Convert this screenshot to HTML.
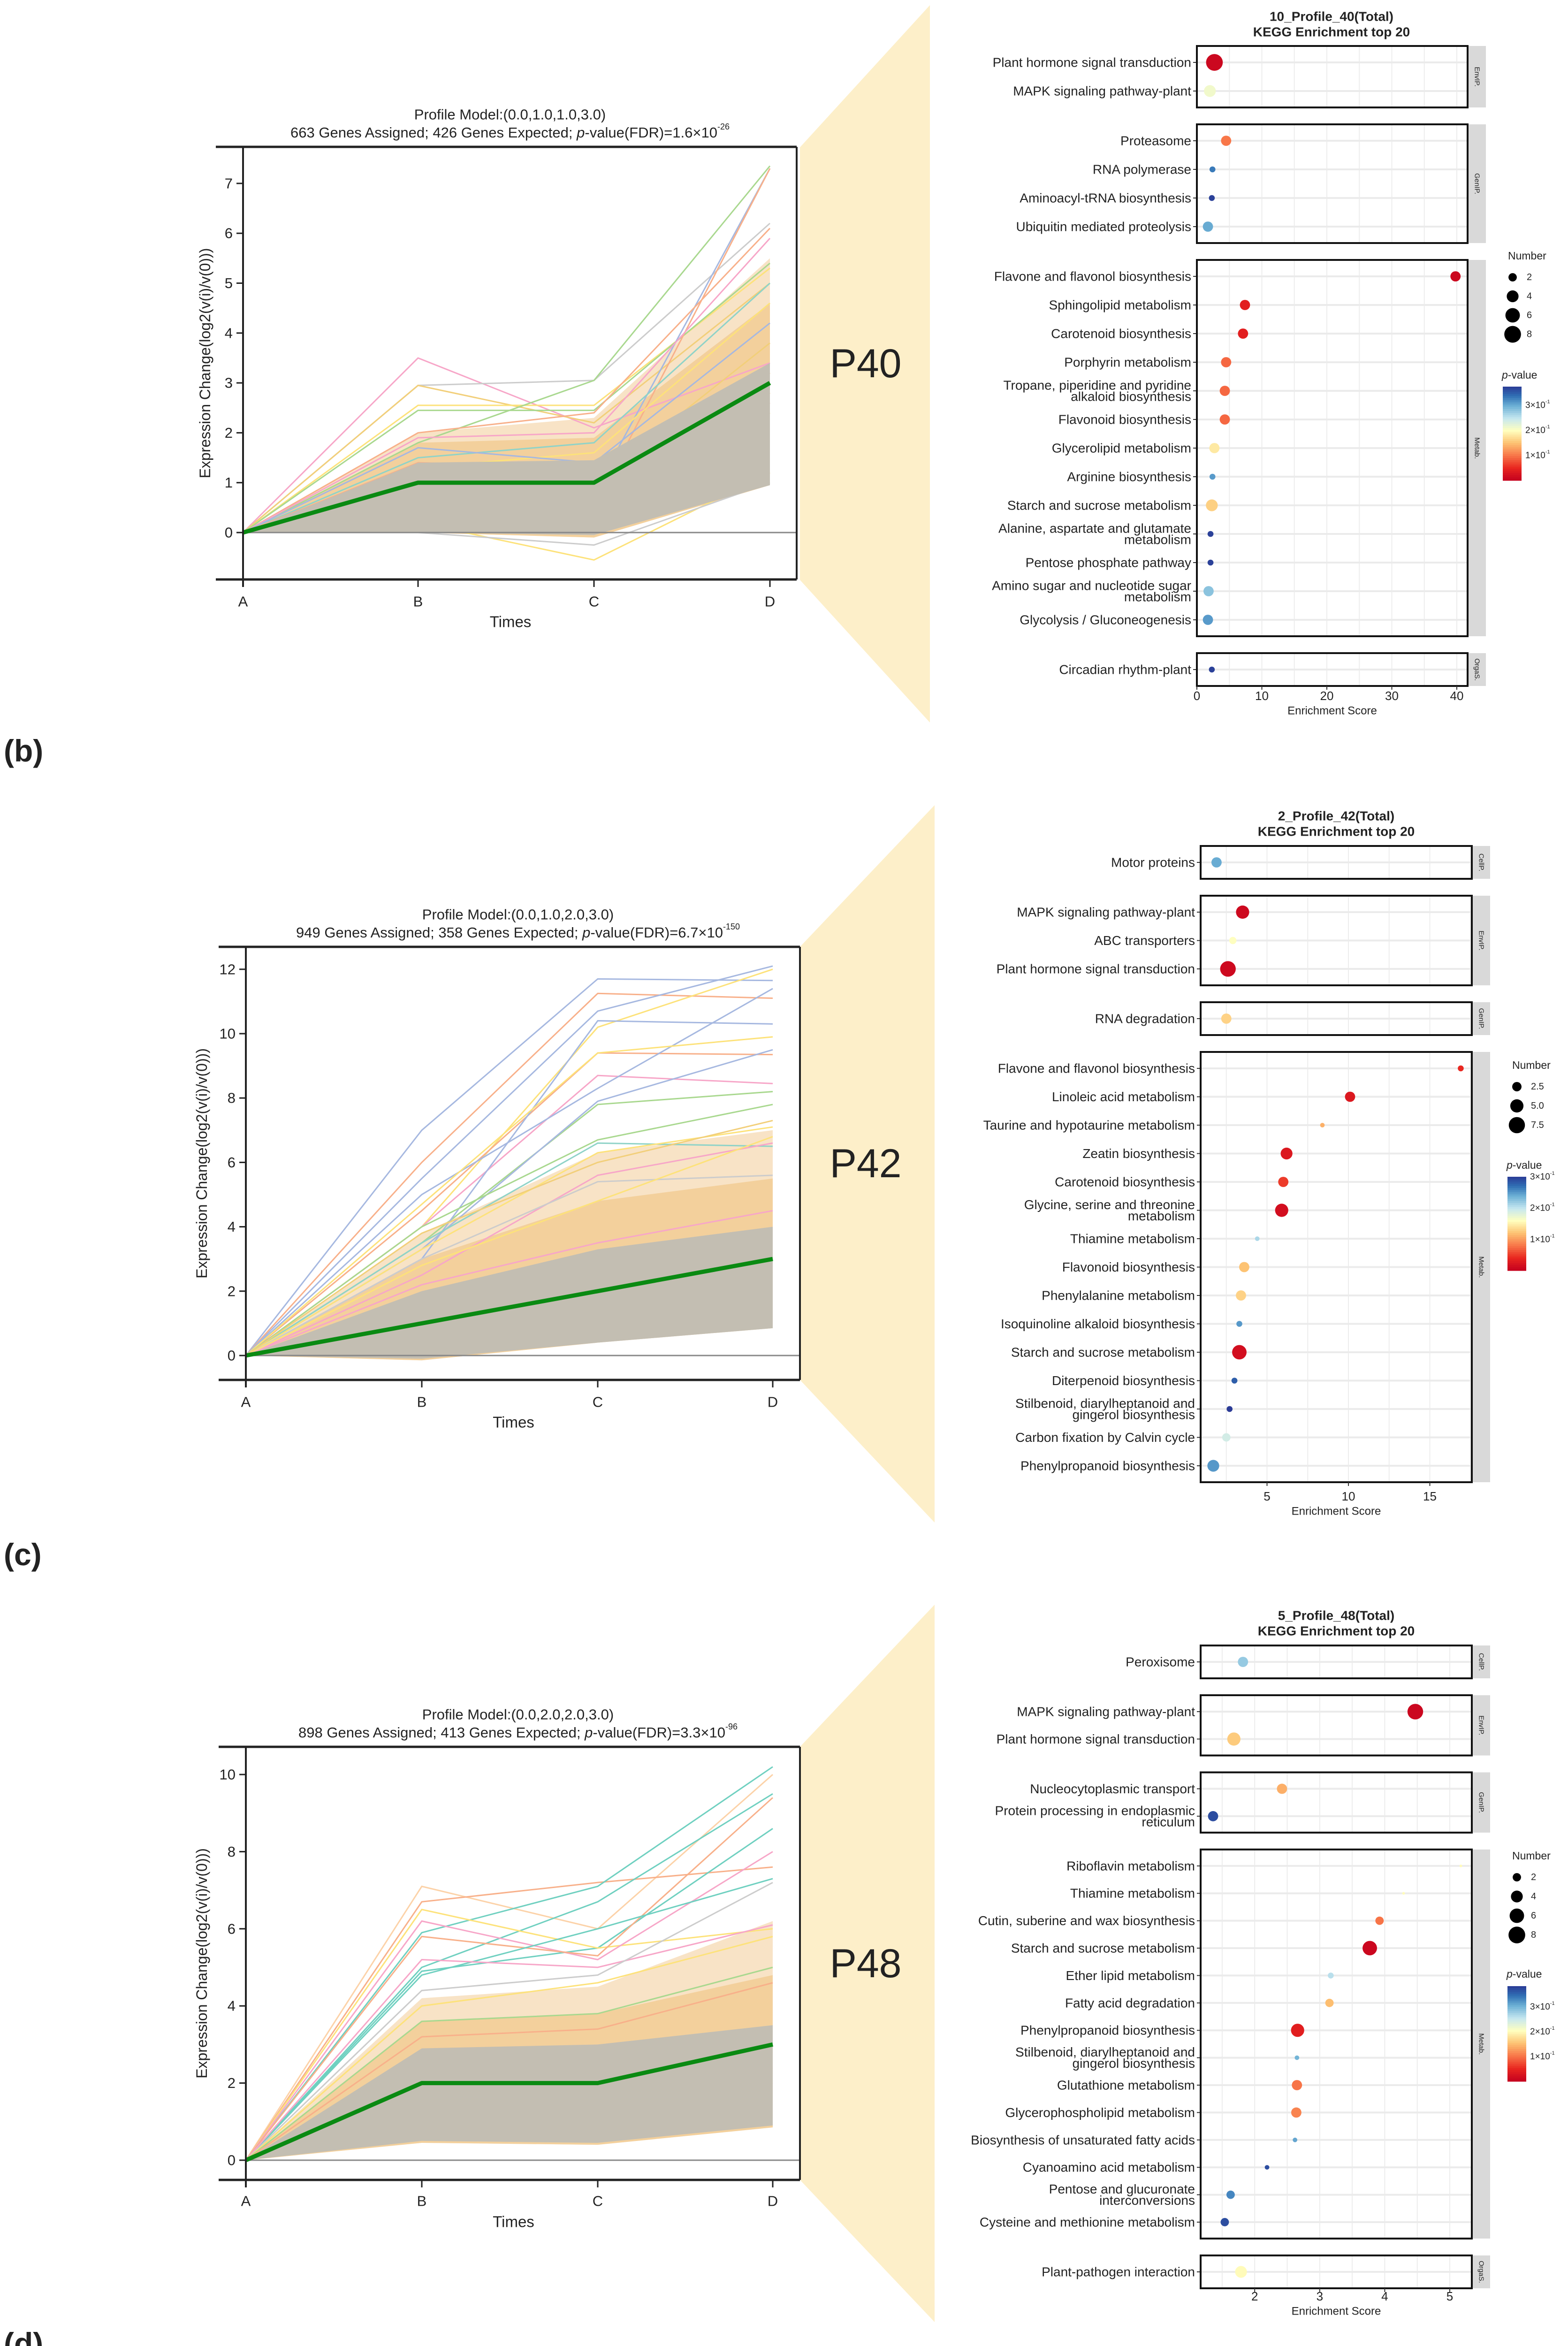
<!DOCTYPE html>
<html><head><meta charset="utf-8">
<style>
html,body{margin:0;padding:0;background:#fff;width:3342px;height:5066px;overflow:hidden;}
svg{display:block;}
text{font-family:"Liberation Sans",sans-serif;fill:#222;}
</style></head>
<body>
<svg id="fig" xmlns="http://www.w3.org/2000/svg" width="3342" height="5066" viewBox="0 0 3342 5066" overflow="hidden"></svg>
<script>
// ===== Profile chart data =====
const timeLabels = ["A","B","C","D"];
const bModel = [0,1,1,3];
const bCoreLow = [0,0,-0.05,0.95];
const bCoreHigh = [0,1.4,1.45,3.4];
const bMidHigh = [0,1.8,1.9,4.6];
const bBandLow = [0,0,-0.1,0.95];
const bBandHigh = [0,2.0,2.3,5.5];
const bLines = [[0,3.5,2.1,3.4],[0,2.95,3.05,6.2],[0,2.95,2.2,5.0],[0,2.55,2.55,5.3],[0,2.45,2.45,5.4],[0,1.8,3.05,7.35],[0,1.0,0.8,7.3],[0,0.9,0.5,7.3],[0,0.2,-0.55,1.2],[0,0,-0.25,1.0],[0,2.0,2.4,6.1],[0,1.9,2.0,5.9],[0,1.5,1.8,5.0],[0,1.3,1.6,4.6],[0,1.7,1.4,4.2],[0,1.2,1.0,3.8],[0,1.1,1.2,3.2],[0,0.8,0.9,2.8],[0,0.6,0.5,2.4],[0,1.4,1.3,2.6]];
const bLineColors = ["#f7a6c8","#cccccc","#f2cf7a","#fde27a","#a9d88f","#a9d88f","#a6b8e0","#f8b08a","#fde27a","#cccccc","#f8b08a","#f7a6c8","#8fd3c8","#fde27a","#a6b8e0","#f2cf7a","#fcc96a","#fcc96a","#fde27a","#f8b08a"];

const cModel = [0,1,2,3];
const cCoreLow = [0,-0.1,0.4,0.85];
const cCoreHigh = [0,2.0,3.3,4.0];
const cMidHigh = [0,3.0,4.8,5.5];
const cBandLow = [0,-0.15,0.4,0.85];
const cBandHigh = [0,3.8,6.3,7.0];
const cLines = [[0,7.0,11.7,11.65],[0,6.0,11.25,11.1],[0,5.5,10.7,12.1],[0,4.0,10.2,12.0],[0,4.5,9.4,9.35],[0,4.0,8.7,8.45],[0,3.5,7.8,8.2],[0,3.0,10.4,10.3],[0,5.0,8.3,11.4],[0,4.7,9.4,9.9],[0,3.3,7.9,9.5],[0,4.0,6.7,7.8],[0,3.5,6.6,6.5],[0,3.3,6.3,7.1],[0,2.5,5.6,6.6],[0,3.0,5.4,5.6],[0,2.8,4.8,6.8],[0,3.8,6.0,7.3],[0,1.5,2.5,3.2],[0,1.2,2.2,2.6],[0,2.2,3.5,4.5]];
const cLineColors = ["#a6b8e0","#f8b08a","#a6b8e0","#fde27a","#f8b08a","#f7a6c8","#a9d88f","#a6b8e0","#a6b8e0","#fde27a","#a6b8e0","#a9d88f","#8fd3c8","#fde27a","#f7a6c8","#cccccc","#fde27a","#f2cf7a","#fcc96a","#fcc96a","#f7a6c8"];

const dModel = [0,2,2,3];
const dCoreLow = [0,0.5,0.45,0.9];
const dCoreHigh = [0,2.9,3.0,3.5];
const dMidHigh = [0,3.6,3.8,4.8];
const dBandLow = [0,0.45,0.4,0.85];
const dBandHigh = [0,4.2,4.5,6.2];
const dLines = [[0,7.1,6.0,10.0],[0,6.7,7.2,7.6],[0,5.9,7.1,10.2],[0,5.0,6.7,9.5],[0,4.9,5.5,8.6],[0,6.5,5.5,6.0],[0,6.2,5.2,8.0],[0,5.8,5.3,9.4],[0,4.8,6.0,7.3],[0,5.2,5.0,6.1],[0,4.4,4.8,7.2],[0,4.0,4.6,5.8],[0,3.6,3.8,5.0],[0,3.2,3.4,4.6],[0,1.8,1.7,2.4],[0,1.5,1.4,2.0],[0,2.4,2.3,2.8]];
const dLineColors = ["#fcd2a8","#f8b08a","#6fd0c0","#6fd0c0","#6fd0c0","#fde27a","#f7a6c8","#f8b08a","#6fd0c0","#f7a6c8","#cccccc","#fde27a","#a9d88f","#f8b08a","#fcc96a","#fcc96a","#fde27a"];

// ===== KEGG bubble data =====
const bGroups = ["EnvIP.","GenIP.","Metab.","OrgaS."];
const bTerms = [["Plant hormone signal transduction","MAPK signaling pathway-plant"],["Proteasome","RNA polymerase","Aminoacyl-tRNA biosynthesis","Ubiquitin mediated proteolysis"],["Flavone and flavonol biosynthesis","Sphingolipid metabolism","Carotenoid biosynthesis","Porphyrin metabolism","Tropane, piperidine and pyridine|alkaloid biosynthesis","Flavonoid biosynthesis","Glycerolipid metabolism","Arginine biosynthesis","Starch and sucrose metabolism","Alanine, aspartate and glutamate|metabolism","Pentose phosphate pathway","Amino sugar and nucleotide sugar|metabolism","Glycolysis / Gluconeogenesis"],["Circadian rhythm-plant"]];
const bScores = [[2.7,2.0],[4.5,2.4,2.3,1.7],[39.8,7.4,7.1,4.5,4.3,4.3,2.7,2.4,2.3,2.1,2.1,1.8,1.7],[2.3]];
const bCounts = [[8,4],[3,1,1,3],[3,3,3,3,3,3,3,1,4,1,1,3,3],[1]];
const bPvals = [[0.01,0.21],[0.1,0.33,0.37,0.3],[0.01,0.04,0.04,0.09,0.09,0.09,0.18,0.31,0.16,0.37,0.37,0.28,0.31],[0.37]];
const bXTicks = [0,10,20,30,40];
const bSizeLegend = ["2","4","6","8"];

const cGroups = ["CellP.","EnvIP.","GenIP.","Metab."];
const cTerms = [["Motor proteins"],["MAPK signaling pathway-plant","ABC transporters","Plant hormone signal transduction"],["RNA degradation"],["Flavone and flavonol biosynthesis","Linoleic acid metabolism","Taurine and hypotaurine metabolism","Zeatin biosynthesis","Carotenoid biosynthesis","Glycine, serine and threonine|metabolism","Thiamine metabolism","Flavonoid biosynthesis","Phenylalanine metabolism","Isoquinoline alkaloid biosynthesis","Starch and sucrose metabolism","Diterpenoid biosynthesis","Stilbenoid, diarylheptanoid and|gingerol biosynthesis","Carbon fixation by Calvin cycle","Phenylpropanoid biosynthesis"]];
const cScores = [[1.9],[3.5,2.9,2.6],[2.5],[16.9,10.1,8.4,6.2,6.0,5.9,4.4,3.6,3.4,3.3,3.3,3.0,2.7,2.5,1.7]];
const cCounts = [[3],[5,1.5,7],[3],[1,3,0.6,4,3,5,0.6,3,3,1,6,1,1,2,4]];
const cPvals = [[0.24],[0.01,0.16,0.01],[0.13],[0.04,0.025,0.11,0.025,0.05,0.015,0.21,0.12,0.13,0.25,0.015,0.28,0.3,0.19,0.25]];
const cXTicks = [5,10,15];
const cSizeLegend = ["2.5","5.0","7.5"];

const dGroups = ["CellP.","EnvIP.","GenIP.","Metab.","OrgaS."];
const dTerms = [["Peroxisome"],["MAPK signaling pathway-plant","Plant hormone signal transduction"],["Nucleocytoplasmic transport","Protein processing in endoplasmic|reticulum"],["Riboflavin metabolism","Thiamine metabolism","Cutin, suberine and wax biosynthesis","Starch and sucrose metabolism","Ether lipid metabolism","Fatty acid degradation","Phenylpropanoid biosynthesis","Stilbenoid, diarylheptanoid and|gingerol biosynthesis","Glutathione metabolism","Glycerophospholipid metabolism","Biosynthesis of unsaturated fatty acids","Cyanoamino acid metabolism","Pentose and glucuronate|interconversions","Cysteine and methionine metabolism"],["Plant-pathogen interaction"]];
const dScores = [[1.82],[4.47,1.68],[2.42,1.36],[5.17,4.29,3.92,3.77,3.17,3.15,2.66,2.65,2.65,2.64,2.62,2.19,1.63,1.54],[1.79]];
const dCounts = [[3],[7,5],[3,3],[0.2,0.2,2,6,1,2,5,0.6,3,3,0.6,0.6,2,2],[4]];
const dPvals = [[0.28],[0.01,0.16],[0.14,0.37],[0.2,0.2,0.1,0.01,0.26,0.15,0.04,0.3,0.1,0.11,0.31,0.37,0.33,0.37],[0.2]];
const dXTicks = [2,3,4,5];
const dSizeLegend = ["2","4","6","8"];

const pTicks = [0.3,0.2,0.1];

// ===== helpers =====
const NS = "http://www.w3.org/2000/svg";
const fig = document.getElementById("fig");
function el(tag, attrs, parent, name, inter) {
  const e = document.createElementNS(NS, tag);
  for (const k in attrs) e.setAttribute(k, attrs[k]);
  
  
  (parent || fig).appendChild(e);
  return e;
}
function txt(parent, x, y, s, size, anchor, name, extra) {
  const a = {x:x, y:y, 'font-size':size, 'text-anchor':anchor||'middle', 'dominant-baseline':'central'};
  if (extra) for (const k in extra) a[k] = extra[k];
  const t = el('text', a, parent, name, false);
  t.textContent = s;
  return t;
}
function span(parent, s, attrs) {
  const t = document.createElementNS(NS, 'tspan');
  t.textContent = s;
  if (attrs) for (const k in attrs) t.setAttribute(k, attrs[k]);
  parent.appendChild(t);
  return t;
}
const stopsT = [0,0.13,0.27,0.4,0.53,0.66,0.79,0.9,1];
const stopsC = [[196,0,31],[232,37,31],[248,121,74],[253,195,115],[255,255,191],[198,231,240],[111,178,214],[47,111,180],[43,59,150]];
function pColor(p, pTop) {
  let t = Math.max(0, Math.min(1, p / pTop));
  for (let i = 0; i < stopsT.length - 1; i++) {
    if (t <= stopsT[i+1]) {
      const f = (t - stopsT[i]) / (stopsT[i+1] - stopsT[i]);
      const c = stopsC[i].map((v, j) => Math.round(v + f * (stopsC[i+1][j] - v)));
      return "rgb(" + c.join(",") + ")";
    }
  }
  return "rgb(43,59,150)";
}
function rSize(n) { return 6.3 * Math.sqrt(n); }

// ===== wedge =====
function wedge(pts, name) {
  el('polygon', {points: pts.map(p => p.join(",")).join(" "), fill: "#fdefc9"}, fig, name, false);
}
wedge([[1705,314],[1982,11],[1982,1540],[1705,1236]], 'zoom-wedge-p40');
wedge([[1705,2018],[1992,1716],[1992,3245],[1705,2941]], 'zoom-wedge-p42');
wedge([[1705,3723],[1992,3420],[1992,4949],[1705,4646]], 'zoom-wedge-p48');

// ===== profile chart =====
function profile(L, model, coreLow, coreHigh, midHigh, bandLow, bandHigh, lines, lineColors, yTicks, title1, title2a, title2exp, name) {
  const g = el('g', {}, fig, name, false);
  const xs = L.xs;
  const yv = v => L.y0 - v * L.unit;
  const poly = (lo, hi) => {
    const pts = [];
    for (let i = 0; i < 4; i++) pts.push(xs[i] + "," + yv(hi[i]));
    for (let i = 3; i >= 0; i--) pts.push(xs[i] + "," + yv(lo[i]));
    return pts.join(" ");
  };
  el('polygon', {points: poly(bandLow, bandHigh), fill: "#f6dcb8", opacity: 0.8}, g, 'gene-band-colored', false);
  el('polygon', {points: poly(bandLow, midHigh), fill: "#f1c98e", opacity: 0.75}, g, 'gene-band-dense', false);
  for (let i = 0; i < lines.length; i++) {
    el('polyline', {points: lines[i].map((v, k) => xs[k] + "," + yv(v)).join(" "), fill: "none", stroke: lineColors[i], 'stroke-width': 3}, g, 'gene-profile-line', false);
  }
  el('polygon', {points: poly(coreLow, coreHigh), fill: "#c3beb2"}, g, 'gene-band-core', false);
  el('line', {x1: L.left, y1: yv(0), x2: L.right, y2: yv(0), stroke: "#888", 'stroke-width': 3}, g, 'zero-line', false);
  el('polyline', {points: model.map((v, k) => xs[k] + "," + yv(v)).join(" "), fill: "none", stroke: "#0a8a12", 'stroke-width': 9, 'stroke-linejoin': 'round'}, g, 'model-profile-line', false);
  el('line', {x1: L.start, y1: L.top, x2: L.right, y2: L.top, stroke: "#222", 'stroke-width': 5}, g, 'plot-top-border', false);
  el('line', {x1: L.start, y1: L.bottom, x2: L.right, y2: L.bottom, stroke: "#222", 'stroke-width': 5}, g, 'plot-bottom-border', false);
  el('line', {x1: L.right, y1: L.top, x2: L.right, y2: L.bottom, stroke: "#222", 'stroke-width': 4}, g, 'plot-right-border', false);
  el('line', {x1: xs[0], y1: L.top, x2: xs[0], y2: L.bottom + 16, stroke: "#222", 'stroke-width': 4}, g, 'y-axis-line', false);
  for (const t of yTicks) {
    el('line', {x1: xs[0] - 14, y1: yv(t), x2: xs[0], y2: yv(t), stroke: "#222", 'stroke-width': 3}, g, 'y-tick', false);
    txt(g, xs[0] - 22, yv(t), String(t), 31, 'end', 'y-tick-label');
  }
  for (let i = 0; i < 4; i++) {
    el('line', {x1: xs[i], y1: L.bottom, x2: xs[i], y2: L.bottom + 16, stroke: "#222", 'stroke-width': 3}, g, 'x-tick', false);
    txt(g, xs[i], L.tickY, timeLabels[i], 31, 'middle', 'x-tick-label');
  }
  txt(g, (xs[0] + L.right) / 2 - 20, L.timesY, "Times", 33, 'middle', 'x-axis-title');
  txt(g, 0, 0, "Expression Change(log2(v(i)/v(0)))", 32, 'middle', 'y-axis-title', {transform: "translate(" + L.ylabX + "," + ((L.top + L.bottom) / 2) + ") rotate(-90)"});
  txt(g, L.titleX, L.t1, title1, 31, 'middle', 'chart-title');
  const t2 = txt(g, L.titleX, L.t2, "", 31, 'middle', 'chart-subtitle');
  span(t2, title2a);
  span(t2, "p", {'font-style': 'italic'});
  span(t2, "-value(FDR)=" + title2exp[0] + "×10");
  span(t2, title2exp[1], {'font-size': 18, dy: -12});
  txt(g, 1845, L.pY, L.pLabel, 86, 'middle', 'profile-id-label');
}
const xsStd = [524,899,1274,1647];
profile({xs:[518,891,1266,1641], y0:1135, unit:106.3, top:313, bottom:1235, left:518, right:1698, start:460, tickY:1282, timesY:1325, ylabX:437, titleX:1087, t1:244, t2:282, pY:775, pLabel:"P40"},
  bModel, bCoreLow, bCoreHigh, bMidHigh, bBandLow, bBandHigh, bLines, bLineColors, [0,1,2,3,4,5,6,7],
  "Profile Model:(0.0,1.0,1.0,3.0)", "663 Genes Assigned; 426 Genes Expected; ", ["1.6","-26"], 'profile-chart-p40');
profile({xs:xsStd, y0:2889, unit:68.6, top:2018, bottom:2941, left:524, right:1705, start:466, tickY:2988, timesY:3031, ylabX:430, titleX:1104, t1:1949, t2:1987, pY:2480, pLabel:"P42"},
  cModel, cCoreLow, cCoreHigh, cMidHigh, cBandLow, cBandHigh, cLines, cLineColors, [0,2,4,6,8,10,12],
  "Profile Model:(0.0,1.0,2.0,3.0)", "949 Genes Assigned; 358 Genes Expected; ", ["6.7","-150"], 'profile-chart-p42');
profile({xs:xsStd, y0:4604, unit:82.2, top:3723, bottom:4646, left:524, right:1705, start:466, tickY:4691, timesY:4735, ylabX:430, titleX:1104, t1:3654, t2:3692, pY:4185, pLabel:"P48"},
  dModel, dCoreLow, dCoreHigh, dMidHigh, dBandLow, dBandHigh, dLines, dLineColors, [0,2,4,6,8,10],
  "Profile Model:(0.0,2.0,2.0,3.0)", "898 Genes Assigned; 413 Genes Expected; ", ["3.3","-96"], 'profile-chart-p48');

// ===== bubble chart =====
function bubble(L, groups, terms, scores, counts, pvals, xTicks, sizeLeg, titleA, name) {
  const g = el('g', {}, fig, name, false);
  const xv = v => L.x0 + v * L.scale;
  const pad = 35, gap = 36;
  let y = L.start;
  let lastBottom = 0;
  for (let gi = 0; gi < groups.length; gi++) {
    const n = terms[gi].length;
    const h = pad * 2 + (n - 1) * L.sp;
    const fg = el('g', {}, g, 'facet-' + groups[gi].replace('.', '').toLowerCase(), false);
    el('rect', {x: L.right + 2, y: y, width: 37, height: h, fill: "#d9d9d9"}, fg, 'facet-strip', false);
    txt(fg, 0, 0, groups[gi], 15, 'middle', 'facet-strip-label', {transform: "translate(" + (L.right + 20) + "," + (y + h / 2) + ") rotate(90)", fill: "#444"});
    const vmin = (L.left - L.x0) / L.scale, vmax = (L.right - L.x0) / L.scale;
    for (let v = Math.ceil(vmin / L.minor) * L.minor; v <= vmax; v += L.minor) {
      el('line', {x1: xv(v), y1: y, x2: xv(v), y2: y + h, stroke: "#ededed", 'stroke-width': 2}, fg, 'grid-line-vertical', false);
    }
    for (let i = 0; i < n; i++) {
      const ry = y + pad + i * L.sp;
      el('line', {x1: L.left, y1: ry, x2: L.right, y2: ry, stroke: "#ebebeb", 'stroke-width': 4}, fg, 'grid-line-horizontal', false);
      el('line', {x1: L.left - 8, y1: ry, x2: L.left, y2: ry, stroke: "#333", 'stroke-width': 2}, fg, 'y-tick', false);
      const parts = terms[gi][i].split("|");
      if (parts.length === 1) {
        txt(fg, L.left - 12, ry, parts[0], 28, 'end', 'term-label');
      } else {
        txt(fg, L.left - 12, ry - 12, parts[0], 28, 'end', 'term-label');
        txt(fg, L.left - 12, ry + 12, parts[1], 28, 'end', 'term-label');
      }
      el('circle', {cx: xv(scores[gi][i]), cy: ry, r: rSize(counts[gi][i]), fill: pColor(pvals[gi][i], L.pTop)}, fg, 'enrichment-dot', true);
    }
    el('rect', {x: L.left, y: y, width: L.right - L.left, height: h, fill: "none", stroke: "#111", 'stroke-width': 4}, fg, 'facet-panel-border', false);
    lastBottom = y + h;
    y += h + gap;
  }
  for (const t of xTicks) {
    el('line', {x1: xv(t), y1: lastBottom, x2: xv(t), y2: lastBottom + 8, stroke: "#333", 'stroke-width': 2}, g, 'x-tick', false);
    txt(g, xv(t), L.tickY, String(t), 26, 'middle', 'x-tick-label');
  }
  txt(g, (L.left + L.right) / 2, L.tickY + 32, "Enrichment Score", 24, 'middle', 'x-axis-title');
  txt(g, L.titleX, L.titleY, titleA, 28, 'middle', 'chart-title', {'font-weight': 'bold'});
  txt(g, L.titleX, L.titleY + 33, "KEGG Enrichment top 20", 28, 'middle', 'chart-title-line2', {'font-weight': 'bold'});
  const lg = el('g', {}, g, 'size-legend', false);
  txt(lg, L.legX - 10, L.numY, "Number", 23, 'start', 'size-legend-title');
  for (let i = 0; i < sizeLeg.length; i++) {
    const cy = L.numY + 46 + i * L.legSp;
    el('circle', {cx: L.legX, cy: cy, r: rSize(parseFloat(sizeLeg[i])), fill: "#000"}, lg, 'size-legend-dot', false);
    txt(lg, L.legX + 30, cy, sizeLeg[i], 20, 'start', 'size-legend-label');
  }
  const cg = el('g', {}, g, 'color-legend', false);
  const pt = txt(cg, L.barX - 2, L.pvY, "", 23, 'start', 'color-legend-title');
  span(pt, "p", {'font-style': 'italic'});
  span(pt, "-value");
  const bh = L.barBot - L.barTop;
  for (let k = 0; k < 50; k++) {
    const p = L.pTop - (k + 0.5) / 50 * L.pTop;
    el('rect', {x: L.barX, y: L.barTop + k * bh / 50, width: 40, height: bh / 50 + 0.6, fill: pColor(p, L.pTop)}, cg, 'colorbar-segment', false);
  }
  for (const p of pTicks) {
    const yy = L.barBot - p / L.pTop * bh;
    if (yy < L.barTop - 1) continue;
    const lt = txt(cg, L.barX + 48, yy, "", 19, 'start', 'colorbar-tick-label');
    span(lt, Math.round(p * 10) + "×10");
    span(lt, "-1", {'font-size': 11, dy: -7});
  }
}
bubble({start:98, sp:61, left:2551, right:3128, x0:2551, scale:13.85, minor:5, pTop:0.374, tickY:1483, titleX:2838, titleY:35, legX:3224, numY:545, legSp:40.5, barX:3203, barTop:824, barBot:1024, pvY:799},
  bGroups, bTerms, bScores, bCounts, bPvals, bXTicks, bSizeLegend, "10_Profile_40(Total)", 'kegg-bubble-chart-p40');
bubble({start:1803, sp:60.5, left:2559, right:3137, x0:2527, scale:34.7, minor:2.5, pTop:0.3, tickY:3189, titleX:2848, titleY:1739, legX:3233, numY:2270, legSp:41, barX:3213, barTop:2508, barBot:2708, pvY:2483},
  cGroups, cTerms, cScores, cCounts, cPvals, cXTicks, cSizeLegend, "2_Profile_42(Total)", 'kegg-bubble-chart-p42');
bubble({start:3507, sp:58.4, left:2559, right:3137, x0:2397, scale:138.6, minor:0.5, pTop:0.383, tickY:4894, titleX:2848, titleY:3443, legX:3233, numY:3955, legSp:41, barX:3213, barTop:4233, barBot:4436, pvY:4207},
  dGroups, dTerms, dScores, dCounts, dPvals, dXTicks, dSizeLegend, "5_Profile_48(Total)", 'kegg-bubble-chart-p48');

// ===== panel letters =====
txt(fig, 8, 1600, "(b)", 66, 'start', 'panel-label-b', {'font-family': '"Liberation Serif", serif', 'font-weight': 'bold'});
txt(fig, 8, 3313, "(c)", 66, 'start', 'panel-label-c', {'font-family': '"Liberation Serif", serif', 'font-weight': 'bold'});
txt(fig, 8, 4995, "(d)", 66, 'start', 'panel-label-d', {'font-family': '"Liberation Serif", serif', 'font-weight': 'bold'});
</script>
</body></html>
